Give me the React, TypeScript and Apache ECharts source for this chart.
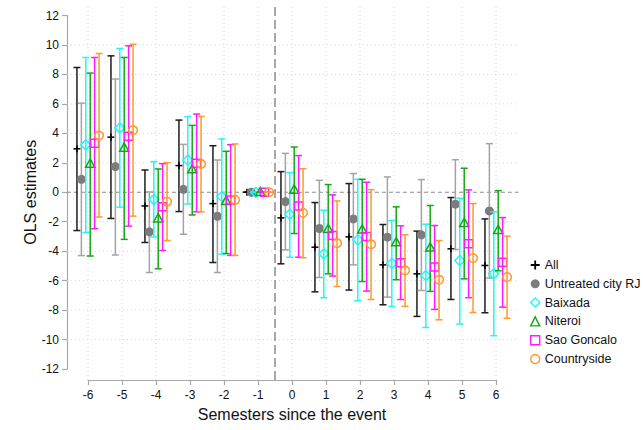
import React, { useEffect, useRef } from "react";
import * as echarts from "echarts";

// ---- data ----
const periods = [-6, -5, -4, -3, -2, -1, 0, 1, 2, 3, 4, 5, 6];
const seriesNames = ["All", "Untreated city RJ", "Baixada", "Niteroi", "Sao Goncalo", "Countryside"];

const allEst = [2.95, 3.74, -0.93, 1.81, -0.77, 0, -1.74, -3.73, -3.03, -4.93, -5.54, -3.84, -4.97];
const allLo = [-2.6, -1.78, -3.41, -1.31, -4.77, 0, -4.86, -6.76, -6.64, -7.64, -8.43, -7.28, -8.18];
const allHi = [8.47, 9.26, 1.51, 4.9, 3.16, 0, 1.4, -0.7, 0.59, -2.19, -2.64, -0.36, -1.81];

const rjEst = [0.88, 1.74, -2.69, 0.2, -1.63, 0, -0.63, -2.46, -1.81, -3.05, -2.89, -0.81, -1.27];
const rjLo = [-4.3, -4.26, -5.45, -2.85, -5.45, 0, -3.91, -5.79, -4.93, -7.12, -6.67, -3.89, -5.83];
const rjHi = [6.05, 7.69, 0.02, 3.25, 2.19, 0, 2.64, 0.81, 1.27, 1.04, 0.86, 2.21, 3.3];

const baixEst = [3.22, 4.37, -0.5, 2.19, -0.29, 0, -1.49, -4.18, -3.23, -4.84, -5.65, -4.63, -5.54];
const baixLo = [-2.73, -1.01, -3.03, -0.79, -4.2, 0, -4.41, -7.16, -7.37, -7.75, -9.18, -8.95, -9.74];
const baixHi = [9.15, 9.76, 2.08, 5.13, 3.62, 0, 1.33, -1.22, 0.88, -1.92, -2.17, -0.41, -1.33];

const nitEst = [1.92, 3.0, -1.79, 1.54, -0.61, 0, 0.16, -2.51, -2.55, -3.41, -3.77, -2.1, -2.58];
const nitLo = [-4.33, -3.2, -5.2, -1.54, -4.16, 0, -2.8, -5.54, -6.06, -5.94, -6.73, -5.88, -5.33];
const nitHi = [8.09, 9.15, 1.58, 4.54, 2.78, 0, 3.07, 0.52, 0.88, -0.99, -0.9, 1.63, 0.11];

const sgEst = [3.33, 3.81, -0.99, 1.97, -0.52, 0, -0.93, -2.94, -3.0, -4.79, -5.08, -3.5, -4.75];
const sgLo = [-2.48, -2.3, -3.95, -1.33, -4.29, 0, -4.41, -5.69, -6.71, -7.28, -7.95, -7.16, -7.8];
const sgHi = [9.15, 9.94, 1.94, 5.31, 3.23, 0, 2.49, -0.18, 0.68, -2.28, -2.26, 0.16, -1.72];

const cEst = [3.85, 4.21, -0.63, 1.92, -0.52, 0, -1.4, -3.46, -3.53, -5.31, -5.94, -4.47, -5.76];
const cLo = [-1.68, -1.62, -3.28, -1.33, -4.29, 0, -4.45, -6.4, -7.28, -7.75, -8.66, -8.16, -8.56];
const cHi = [9.42, 10.05, 2.01, 5.15, 3.28, 0, 1.6, -0.59, 0.18, -2.89, -3.28, -0.77, -2.98];

const xOffsets = [-0.325, -0.195, -0.065, 0.065, 0.195, 0.325];
const yGridValues = [-10, -8, -6, -4, -2, 2, 4, 6, 8, 10];
const xGridValues = periods;
const eventLine = -0.5;
const plotXRange = [-6.62, 6.66];
const plotYRange = [-12.75, 12.75];

const FONT = "'Liberation Sans', Arial, Helvetica, sans-serif";

type Kind = "plus" | "dot" | "diamond" | "triangle" | "square" | "ocircle";
const styles: { kind: Kind; bar: string; mark: string }[] = [
  { kind: "plus", bar: "#1c1c1c", mark: "#000000" },
  { kind: "dot", bar: "#a3a3a3", mark: "#7c7c7c" },
  { kind: "diamond", bar: "#1ff7f7", mark: "#1ff7f7" },
  { kind: "triangle", bar: "#13a813", mark: "#13a813" },
  { kind: "square", bar: "#ff1aff", mark: "#ff1aff" },
  { kind: "ocircle", bar: "#ff982b", mark: "#ff982b" },
];

const estimates = [
  [allEst, allLo, allHi],
  [rjEst, rjLo, rjHi],
  [baixEst, baixLo, baixHi],
  [nitEst, nitLo, nitHi],
  [sgEst, sgLo, sgHi],
  [cEst, cLo, cHi],
];

function marker(kind: Kind, cx: number, cy: number, color: string): any {
  const lw = 1.5;
  switch (kind) {
    case "plus":
      return {
        type: "group",
        children: [
          { type: "line", shape: { x1: cx - 3.5, y1: cy, x2: cx + 3.5, y2: cy }, style: { stroke: color, lineWidth: lw } },
          { type: "line", shape: { x1: cx, y1: cy - 3.5, x2: cx, y2: cy + 3.5 }, style: { stroke: color, lineWidth: lw } },
        ],
      };
    case "dot":
      return { type: "circle", shape: { cx, cy, r: 4.5 }, style: { fill: color } };
    case "diamond":
      return {
        type: "polygon",
        shape: { points: [[cx, cy - 5], [cx + 5, cy], [cx, cy + 5], [cx - 5, cy]] },
        style: { fill: "none", stroke: color, lineWidth: lw },
      };
    case "triangle":
      return {
        type: "polygon",
        shape: { points: [[cx, cy - 5], [cx + 4.6, cy + 3.3], [cx - 4.6, cy + 3.3]] },
        style: { fill: "none", stroke: color, lineWidth: lw },
      };
    case "square":
      return { type: "rect", shape: { x: cx - 4, y: cy - 4, width: 8, height: 8 }, style: { fill: "none", stroke: color, lineWidth: lw } };
    default:
      return { type: "circle", shape: { cx, cy, r: 4.3 }, style: { fill: "none", stroke: color, lineWidth: lw } };
  }
}

export default function App() {
  const ref = useRef<HTMLDivElement>(null);
  useEffect(() => {
    if (!ref.current) return;
    const chart = echarts.init(ref.current, undefined, { renderer: "svg" });

    const dataSeries = seriesNames.map((name, si) => {
      const [est, lo, hi] = estimates[si];
      const st = styles[si];
      return {
        name,
        type: "custom",
        z: 10 + si,
        silent: true,
        clip: false,
        encode: { x: 0, y: 1 },
        data: periods.map((p, i) => [p, est[i], lo[i], hi[i]]),
        itemStyle: { color: st.mark },
        renderItem: (_params: any, api: any) => {
          const xv = api.value(0) + xOffsets[si];
          const pt = api.coord([xv, api.value(1)]);
          const l = api.coord([xv, api.value(2)]);
          const h = api.coord([xv, api.value(3)]);
          const ls = { stroke: st.bar, lineWidth: 1.5 };
          return {
            type: "group",
            children: [
              { type: "line", shape: { x1: pt[0], y1: l[1], x2: pt[0], y2: h[1] }, style: ls },
              { type: "line", shape: { x1: pt[0] - 3.5, y1: h[1], x2: pt[0] + 3.5, y2: h[1] }, style: ls },
              { type: "line", shape: { x1: pt[0] - 3.5, y1: l[1], x2: pt[0] + 3.5, y2: l[1] }, style: ls },
              marker(st.kind, pt[0], pt[1], st.mark),
            ],
          };
        },
      };
    });

    const gridSeries = [
      {
        type: "custom",
        z: 1,
        silent: true,
        clip: false,
        data: yGridValues.map((v) => [v]),
        renderItem: (_p: any, api: any) => {
          const a = api.coord([plotXRange[0], api.value(0)]);
          const b = api.coord([plotXRange[1], api.value(0)]);
          return { type: "line", shape: { x1: a[0], y1: a[1], x2: b[0], y2: b[1] }, style: { stroke: "#d4d4d4", lineWidth: 1, lineDash: [1, 3] } };
        },
      },
      {
        type: "custom",
        z: 1,
        silent: true,
        clip: false,
        data: xGridValues.map((v) => [v]),
        renderItem: (_p: any, api: any) => {
          const a = api.coord([api.value(0), plotYRange[0]]);
          const b = api.coord([api.value(0), plotYRange[1]]);
          return { type: "line", shape: { x1: a[0], y1: a[1], x2: b[0], y2: b[1] }, style: { stroke: "#d4d4d4", lineWidth: 1, lineDash: [1, 3] } };
        },
      },
      {
        type: "custom",
        z: 2,
        silent: true,
        clip: false,
        data: [[0]],
        renderItem: (_p: any, api: any) => {
          const a = api.coord([plotXRange[0], api.value(0)]);
          const b = api.coord([plotXRange[1], api.value(0)]);
          return { type: "line", shape: { x1: a[0], y1: a[1], x2: b[0], y2: b[1] }, style: { stroke: "#8c8c8c", lineWidth: 1.2, lineDash: [4, 3] } };
        },
      },
      {
        type: "custom",
        z: 2,
        silent: true,
        clip: false,
        data: [[eventLine]],
        renderItem: (_p: any, api: any) => {
          const a = api.coord([api.value(0), plotYRange[0]]);
          const b = api.coord([api.value(0), plotYRange[1]]);
          return { type: "line", shape: { x1: a[0], y1: a[1], x2: b[0], y2: b[1] }, style: { stroke: "#8c8c8c", lineWidth: 1.5, lineDash: [9, 4] } };
        },
      },
    ];

    const plusPath = "path://M4,0h2v4h4v2h-4v4h-2v-4h-4v-2h4z";
    const legendIcons = [plusPath, "circle", "diamond", "triangle", "rect", "circle"];

    chart.setOption({
      animation: false,
      backgroundColor: "#ffffff",
      textStyle: { fontFamily: FONT },
      grid: { left: 88, right: 147, top: 15.5, bottom: 61, containLabel: false },
      xAxis: {
        type: "value",
        min: -6,
        max: 6,
        interval: 1,
        offset: 11,
        name: "Semesters since the event",
        nameLocation: "middle",
        nameGap: 26,
        nameMoveOverlap: false,
        nameTextStyle: { fontSize: 16, color: "#111", fontFamily: FONT },
        axisLine: { show: true, onZero: false, lineStyle: { color: "#a8a8a8", width: 1.2 } },
        axisTick: { show: true, length: 5, lineStyle: { color: "#a8a8a8", width: 1.2 } },
        axisLabel: { fontSize: 12, color: "#111", margin: 9, fontFamily: FONT },
        splitLine: { show: false },
      },
      yAxis: {
        type: "value",
        min: -12,
        max: 12,
        interval: 2,
        offset: 21,
        name: "OLS estimates",
        nameLocation: "middle",
        nameGap: 29,
        nameMoveOverlap: false,
        nameTextStyle: { fontSize: 16, color: "#111", fontFamily: FONT },
        axisLine: { show: true, onZero: false, lineStyle: { color: "#a8a8a8", width: 1.2 } },
        axisTick: { show: true, length: 5, lineStyle: { color: "#a8a8a8", width: 1.2 } },
        axisLabel: { fontSize: 12, color: "#111", margin: 8, fontFamily: FONT },
        splitLine: { show: false },
      },
      legend: {
        orient: "vertical",
        left: 530,
        top: 258,
        padding: 0,
        itemWidth: 9,
        itemHeight: 9,
        itemGap: 4.8,
        selectedMode: false,
        textStyle: { fontSize: 12.5, color: "#111", lineHeight: 14, fontFamily: FONT },
        data: seriesNames.map((name, i) => ({
          name,
          icon: legendIcons[i],
          itemStyle:
            i < 2
              ? { color: styles[i].mark, borderWidth: 0 }
              : { color: "#ffffff", borderColor: styles[i].mark, borderWidth: 1.4 },
        })),
      },
      series: [...gridSeries, ...dataSeries],
    });
    return () => chart.dispose();
  }, []);
  return <div ref={ref} style={{ position: "fixed", left: 0, top: 0, width: 643, height: 430 }} />;
}
